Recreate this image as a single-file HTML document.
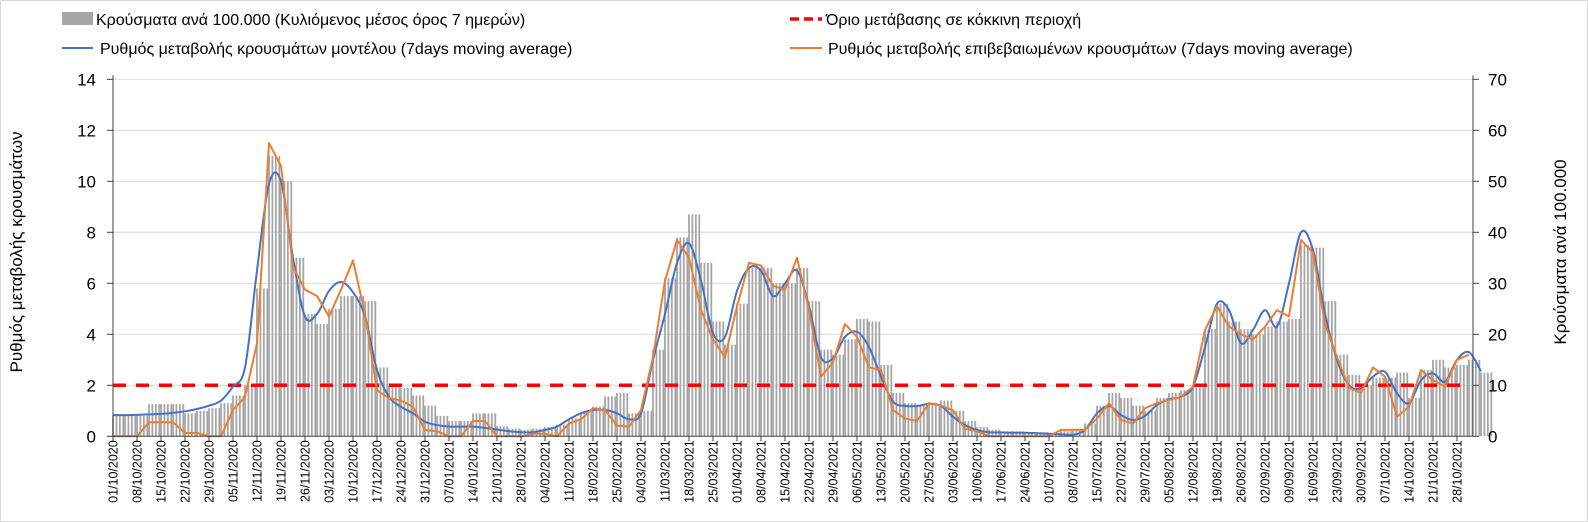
<!DOCTYPE html>
<html><head><meta charset="utf-8"><style>
html,body{margin:0;padding:0;background:#fff;}
svg{display:block;font-family:"Liberation Sans",sans-serif;}
</style></head><body>
<svg id="chart" width="1588" height="522" viewBox="0 0 1588 522">
<rect x="0.5" y="0.5" width="1587" height="521" fill="#fff" stroke="#d9d9d9"/>
<g>
 <g>
  <rect x="62" y="12" width="31" height="13" fill="#a6a6a6"/>
  <text x="96" y="25" font-size="16" fill="#000">Κρούσματα ανά 100.000 (Κυλιόμενος μέσος όρος 7 ημερών)</text>
 </g>
 <g>
  <line x1="790" y1="19" x2="822" y2="19" stroke="#ff0000" stroke-width="3.5" stroke-dasharray="9,5"/>
  <text x="826" y="25" font-size="16" fill="#000">Όριο μετάβασης σε κόκκινη περιοχή</text>
 </g>
 <g>
  <line x1="62" y1="48" x2="93" y2="48" stroke="#4472c4" stroke-width="2"/>
  <text x="100" y="54" font-size="16" fill="#000">Ρυθμός μεταβολής κρουσμάτων μοντέλου (7days moving average)</text>
 </g>
 <g>
  <line x1="790" y1="48" x2="822" y2="48" stroke="#ed7d31" stroke-width="2"/>
  <text x="828" y="54" font-size="16" fill="#000">Ρυθμός μεταβολής επιβεβαιωμένων κρουσμάτων (7days moving average)</text>
 </g>
</g>
<text transform="translate(22,252) rotate(-90)" text-anchor="middle" font-size="17">Ρυθμός μεταβολής κρουσμάτων</text>
<text transform="translate(1566,252) rotate(-90)" text-anchor="middle" font-size="17">Κρούσματα ανά 100.000</text>
<g id="grid"></g><g id="bars"></g><g id="lines"></g><g id="axes"></g>
</svg>
<script>
// half-week samples (every 3.5 days) starting 01/10/2020
const barValues = [4,4, 4,6.3, 6.3,6.3, 4.5,5, 5.5,6.5, 8,10, 29,55, 50,35, 24,22, 25,27.5, 27.5,26.5, 13.5,10, 9.5,8, 6,4, 3,3, 4.5,4.5, 2,1.5, 1.3,1.5, 1.8,2.3, 3.5,4.8, 5.8,7.8, 8.5,4.5, 5,17, 31,39, 43.5,34, 22.5,18, 26,33, 33,30, 30,33, 26.5,17, 16,19, 23,22.5, 14,8.5, 6.5,6, 6.3,7, 5,3, 1.8,1.3, 1,1, 0.8,0.8, 0.5,1, 1.5,2.5, 6,8.5, 7.5,6, 5,7.5, 8.5,9, 9.5,21, 26,22.5, 21,20, 21.5,22.5, 23,37.5, 37,26.5, 16,12, 10,11.5, 11.5,12.5, 7.5,13, 15,13.5, 14,15, 12.5];
const modelRate = [0.83,0.83, 0.84,0.86, 0.88,0.92, 0.98,1.07, 1.2,1.4, 1.95,2.7, 6.5,9.9, 10.0,7.0, 4.7,4.8, 5.7,6.05, 5.65,4.7, 2.6,1.55, 1.16,0.9, 0.57,0.44, 0.38,0.38, 0.38,0.33, 0.26,0.2, 0.16,0.16, 0.25,0.38, 0.67,0.9, 1.03,1.03, 0.9,0.67, 0.9,3.0, 4.8,6.8, 7.57,6.1, 4.04,3.9, 5.7,6.6, 6.5,5.5, 6.0,6.5, 5.1,3.1, 3.06,3.9, 4.1,3.5, 2.34,1.36, 1.19,1.19, 1.27,1.19, 0.77,0.44, 0.25,0.16, 0.15,0.14, 0.14,0.12, 0.1,0.08, 0.06,0.25, 0.9,1.19, 0.83,0.64, 0.8,1.23, 1.45,1.55, 1.95,3.5, 5.2,4.95, 3.65,4.17, 4.95,4.3, 6.0,8.0, 7.3,4.8, 3.0,2.0, 1.88,2.34, 2.53,1.69, 1.3,2.2, 2.47,2.14, 3.0,3.3, 2.55];
const confirmedRate = [0,0, 0,0.55, 0.55,0.55, 0.13,0.13, 0,0, 1.03,1.55, 3.65,11.5, 10.6,6.65, 5.75,5.5, 4.7,5.75, 6.9,4.8, 1.8,1.5, 1.4,1.16, 0.24,0.2, 0,0, 0.6,0.6, 0,0, 0,0.1, 0.1,0, 0.5,0.67, 1.1,1.03, 0.42,0.38, 1.03,3.1, 6.1,7.7, 7.0,4.95, 3.8,3.1, 5.1,6.8, 6.7,5.9, 5.75,7.0, 4.95,2.34, 2.9,4.4, 3.9,2.7, 2.6,1.03, 0.7,0.6, 1.3,1.2, 1.03,0.29, 0.2,0, 0,0, 0,0, 0,0.25, 0.25,0.25, 0.7,1.3, 0.64,0.5, 1.1,1.3, 1.42,1.55, 1.95,4.17, 5.1,4.3, 4.0,3.8, 4.3,4.95, 4.7,7.7, 7.2,4.4, 3.1,1.9, 1.7,2.7, 2.34,0.77, 1.16,2.6, 2.2,1.95, 3.0,3.2];
const threshold = 2;
const leftTicks = [0,2,4,6,8,10,12,14];
const rightTicks = [0,10,20,30,40,50,60,70];
const startDate = [2020,10,1];
const weekCount = 57;

const NS="http://www.w3.org/2000/svg";
const X0=113, DAY=24/7, Y0=436.3, UNIT=25.5, RIGHT_UNIT=UNIT/5, XR=1473;
const xDay=d=>X0+d*DAY;
const xIdx=i=>xDay(i*3.5);
const yL=v=>Y0-v*UNIT;
const yR=v=>Y0-v*RIGHT_UNIT;
function mk(tag,attrs,parent){const e=document.createElementNS(NS,tag);for(const k in attrs)e.setAttribute(k,attrs[k]);parent.appendChild(e);return e;}
const grid=document.getElementById('grid'),bars=document.getElementById('bars'),lines=document.getElementById('lines'),axes=document.getElementById('axes');

leftTicks.forEach(v=>{
 if(v>0){const g=mk('line',{x1:X0,x2:XR,y1:yL(v),y2:yL(v),stroke:'#d9d9d9','stroke-width':1},grid);
 
 }
 const t=mk('text',{x:96,y:yL(v)+6,'text-anchor':'end','font-size':17,fill:'#000'},axes);t.textContent=v;
 
 
 const tk=mk('line',{x1:X0-6,x2:X0,y1:yL(v),y2:yL(v),stroke:'#404040'},axes);
 
 
});
rightTicks.forEach(v=>{
 const t=mk('text',{x:1488,y:yR(v)+6,'font-size':17,fill:'#000'},axes);t.textContent=v;
 
 
 const tk=mk('line',{x1:XR,x2:XR+6,y1:yR(v),y2:yR(v),stroke:'#404040'},axes);
 
 
});

// bars: each half-week sample drawn as its daily bars
barValues.forEach((v,i)=>{
 for(let d=0;d<3.5;d+=1){
  const day=i*3.5+d;
  const x=xDay(Math.round(day*2)/2);
  const r=mk('rect',{x:x-0.9,y:yR(v),width:1.8,height:Y0-yR(v),fill:'#a6a6a6'},bars);
  
  
 }
});

const thr=mk('line',{x1:X0,x2:XR-12,y1:yL(threshold),y2:yL(threshold),stroke:'#ff0000','stroke-width':3.5,'stroke-dasharray':'13,10'},lines);



function smooth(pts){let d='M'+pts[0][0]+','+pts[0][1];
 for(let i=0;i<pts.length-1;i++){const p0=pts[i-1]||pts[i],p1=pts[i],p2=pts[i+1],p3=pts[i+2]||p2;
  d+=' C'+(p1[0]+(p2[0]-p0[0])/6)+','+(p1[1]+(p2[1]-p0[1])/6)+' '+(p2[0]-(p3[0]-p1[0])/6)+','+(p2[1]-(p3[1]-p1[1])/6)+' '+p2[0]+','+p2[1];}
 return d;}
const bp=modelRate.map((v,i)=>[xIdx(i),yL(v)]);
const bl=mk('path',{d:smooth(bp),fill:'none',stroke:'#4472c4','stroke-width':2},lines);


const op=confirmedRate.map((v,i)=>xIdx(i)+','+yL(v)).join(' ');
const ol=mk('polyline',{points:op,fill:'none',stroke:'#ed7d31','stroke-width':2,'stroke-linejoin':'round'},lines);



const la=mk('line',{x1:X0,x2:X0,y1:yL(14)-4,y2:Y0,stroke:'#404040'},axes);


const ra=mk('line',{x1:XR,x2:XR,y1:yL(14)-4,y2:Y0,stroke:'#404040'},axes);


const xa=mk('line',{x1:X0,x2:XR,y1:Y0,y2:Y0,stroke:'#404040'},axes);


const sd=new Date(Date.UTC(startDate[0],startDate[1]-1,startDate[2]));
for(let w=0;w<weekCount;w++){
 const dt=new Date(sd.getTime()+w*7*86400000);
 const lab=String(dt.getUTCDate()).padStart(2,'0')+'/'+String(dt.getUTCMonth()+1).padStart(2,'0')+'/'+dt.getUTCFullYear();
 const x=xDay(w*7);
 const tk=mk('line',{x1:x,x2:x,y1:Y0,y2:Y0+5,stroke:'#404040'},axes);
 
 
 const t=mk('text',{transform:'translate('+(x+4.5)+','+(Y0+4)+') rotate(-90)','text-anchor':'end','font-size':12.5,fill:'#000'},axes);
 t.textContent=lab;
 
 
}
</script>
</body></html>
